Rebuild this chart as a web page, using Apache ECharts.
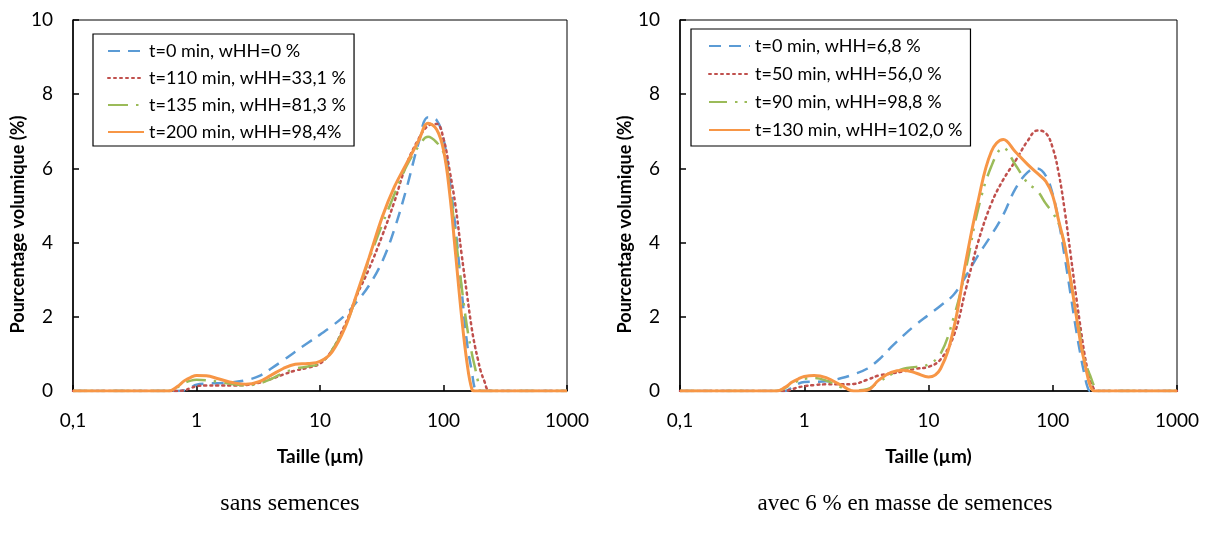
<!DOCTYPE html>
<html>
<head>
<meta charset="utf-8">
<style>html,body{margin:0;padding:0;background:#fff;}#chart{width:1205px;height:539px;}</style>
<script src="https://cdn.jsdelivr.net/npm/echarts@6/dist/echarts.min.js"></script>
</head>
<body>
<div id="chart"></div>
<script>
// Particle sizes (µm), shared by all curves
const sizes = [0.1, 0.5, 0.6, 0.7, 0.8, 0.9, 1.0, 1.2, 1.5, 2.0, 2.5, 3.2, 4.0, 5.0, 6.3, 8.0, 10, 12.5, 16, 20, 25, 32, 40, 50, 63, 75, 88, 100, 112, 125, 140, 155, 170, 180, 190, 200, 215, 230, 250, 1000];

// Left chart: sans semences
const namesA = ['t=0 min, wHH=0 %', 't=110 min, wHH=33,1 %', 't=135 min, wHH=81,3 %', 't=200 min, wHH=98,4%'];
const a_t0   = [0,0,0,0,0.02,0.1,0.17,0.2,0.21,0.24,0.29,0.4,0.6,0.82,1.06,1.3,1.52,1.75,2.05,2.42,2.85,3.5,4.36,5.44,6.7,7.38,7.3,6.8,5.7,4.4,2.74,1.3,0.5,0.05,0,0,0,0,0,0];
const a_t110 = [0,0,0,0,0.02,0.08,0.13,0.15,0.15,0.15,0.16,0.22,0.32,0.44,0.55,0.63,0.74,1.1,1.8,2.6,3.3,4.2,5.1,6.1,6.8,7.15,7.2,6.8,5.95,5.0,3.7,2.6,1.65,1.2,0.85,0.54,0.25,0.02,0,0];
const a_t135 = [0,0,0,0.1,0.22,0.28,0.3,0.29,0.25,0.18,0.15,0.2,0.32,0.48,0.6,0.66,0.75,1.1,1.75,2.6,3.55,4.5,5.3,6.05,6.6,6.85,6.7,6.43,5.52,4.2,2.83,1.73,1.0,0.63,0.27,0,0,0,0,0];
const a_t200 = [0,0,0,0.12,0.28,0.37,0.42,0.41,0.33,0.22,0.18,0.25,0.42,0.6,0.72,0.74,0.8,1.05,1.72,2.65,3.6,4.7,5.5,6.12,6.75,7.22,7.05,6.5,5.35,3.73,2.02,0.76,0.04,0,0,0,0,0,0,0];

// Right chart: avec 6 % en masse de semences
const namesB = ['t=0 min, wHH=6,8 %', 't=50 min, wHH=56,0 %', 't=90 min, wHH=98,8 %', 't=130 min, wHH=102,0 %'];
const b_t0   = [0,0,0,0,0.1,0.2,0.24,0.25,0.26,0.35,0.45,0.6,0.85,1.18,1.5,1.8,2.05,2.3,2.6,3.1,3.65,4.2,4.75,5.45,5.9,6.0,5.8,5.3,4.55,3.6,2.55,1.6,0.85,0.45,0.12,0,0,0,0,0];
const b_t50  = [0,0,0,0,0.05,0.1,0.13,0.16,0.18,0.18,0.19,0.3,0.42,0.47,0.53,0.6,0.65,0.85,1.5,2.75,4.0,5.05,5.7,6.2,6.75,7.02,6.95,6.55,5.85,4.85,3.62,2.5,1.55,1.0,0.6,0.35,0.05,0,0,0];
const b_t90  = [0,0,0,0.08,0.2,0.28,0.33,0.35,0.28,0.1,0.02,0.05,0.25,0.45,0.6,0.65,0.72,1.0,2.0,3.3,4.88,6.05,6.55,6.1,5.6,5.4,5.05,4.8,4.5,3.9,2.95,2.1,1.3,0.85,0.6,0.42,0.14,0,0,0];
const b_t130 = [0,0,0,0.1,0.24,0.33,0.39,0.42,0.36,0.15,0,0.02,0.3,0.5,0.56,0.48,0.38,0.6,1.7,3.5,5.1,6.45,6.78,6.45,6.1,5.87,5.65,5.26,4.57,3.91,2.95,2.0,1.17,0.78,0.42,0.15,0,0,0,0];

// Axis ticks
const xTickValues = [0.1, 1, 10, 100, 1000];
const xTickLabels = ['0,1', '1', '10', '100', '1000'];
const yTicks = [0, 2, 4, 6, 8, 10];
const xTitle = 'Taille (µm)';
const yTitle = 'Pourcentage volumique (%)';
const captions = ['sans semences', 'avec 6 % en masse de semences'];

const colors = ['#5b9bd5', '#c0504d', '#9bbb59', '#f79646'];
const FONT = 'Lato';

function pair(vals) { return sizes.map((s, i) => [s, vals[i]]); }
function xLabel(v) {
  let best = 0, bd = Infinity;
  xTickValues.forEach((t, i) => { const d = Math.abs(Math.log10(v) - Math.log10(t)); if (d < bd) { bd = d; best = i; } });
  return xTickLabels[best];
}

const styles = [
  { width: 2.5, type: [12, 8] },
  { width: 2.5, type: [2, 4], cap: 'round' },
  null,
  { width: 3, type: 'solid' }
];
const greenA = { width: 2.5, type: [20, 8, 2.5, 8] };
const greenB = { width: 2.5, type: [18, 8, 2.5, 7, 2.5, 8] };

function mkSeries(names, arrs, idx, green) {
  return arrs.map((arr, i) => ({
    name: names[i],
    type: 'line',
    xAxisIndex: idx,
    yAxisIndex: idx,
    data: pair(arr),
    smooth: 0.4,
    showSymbol: false,
    symbol: 'none',
    color: colors[i],
    lineStyle: Object.assign({ color: colors[i] }, i === 2 ? green : styles[i]),
    z: 2 + i
  }));
}

function xAxis(gi) {
  return {
    type: 'log', logBase: 10, gridIndex: gi, min: 0.1, max: 1000, splitNumber: 4,
    axisLine: { show: true, onZero: false, lineStyle: { color: '#000', width: 1.5 } },
    axisTick: { show: true, inside: true, length: 6, lineStyle: { color: '#000', width: 1.5 } },
    minorTick: { show: false },
    splitLine: { show: false },
    axisLabel: { margin: 20, fontFamily: FONT, fontSize: 19, color: '#000', formatter: xLabel },
    name: xTitle, nameLocation: 'middle', nameGap: 56,
    nameTextStyle: { fontFamily: FONT, fontSize: 19, fontWeight: 'bold', color: '#000' }
  };
}
function yAxis(gi) {
  return {
    type: 'value', gridIndex: gi, min: 0, max: 10, interval: 2,
    axisLine: { show: true, lineStyle: { color: '#000', width: 1.5 } },
    axisTick: { show: true, inside: true, length: 6, lineStyle: { color: '#000', width: 1.5 } },
    splitLine: { show: false },
    axisLabel: { margin: 20, fontFamily: FONT, fontSize: 19, color: '#000',
      formatter: v => String(yTicks.find(t => t === v) ?? v) },
    name: yTitle, nameLocation: 'middle', nameGap: 43, nameRotate: 90,
    nameTextStyle: { fontFamily: FONT, fontSize: 18, fontWeight: 'bold', color: '#000', padding: [0, 38, 0, 0] }
  };
}

const legendBase = {
  orient: 'vertical', itemWidth: 36, itemHeight: 14,
  borderColor: '#000', borderWidth: 1.2, backgroundColor: '#fff',
  itemStyle: { opacity: 0, borderWidth: 0 },
  textStyle: { fontFamily: FONT, fontSize: 18, color: '#000', lineHeight: 20 }
};

const chart = echarts.init(document.getElementById('chart'), null, { renderer: 'canvas' });
chart.setOption({
  animation: false,
  backgroundColor: '#fff',
  grid: [
    { left: 73, top: 20, width: 494, height: 371, show: true, borderColor: '#000', borderWidth: 1, backgroundColor: 'transparent' },
    { left: 680, top: 20, width: 497, height: 371, show: true, borderColor: '#000', borderWidth: 1, backgroundColor: 'transparent' }
  ],
  xAxis: [xAxis(0), xAxis(1)],
  yAxis: [yAxis(0), yAxis(1)],
  legend: [
    Object.assign({}, legendBase, { data: namesA, left: 93, top: 34, padding: [7, 8, 4, 14], itemGap: 7 }),
    Object.assign({}, legendBase, { data: namesB, left: 691, top: 29, padding: [7, 8, 6, 17], itemGap: 8, itemWidth: 41 })
  ],
  graphic: [
    { type: 'text', x: 290, y: 504, style: { text: captions[0], align: 'center', verticalAlign: 'middle', font: '24px "Liberation Serif"', fill: '#000' } },
    { type: 'text', x: 905, y: 504, style: { text: captions[1], align: 'center', verticalAlign: 'middle', font: '23px "Liberation Serif"', fill: '#000' } }
  ],
  series: [].concat(
    mkSeries(namesA, [a_t0, a_t110, a_t135, a_t200], 0, greenA),
    mkSeries(namesB, [b_t0, b_t50, b_t90, b_t130], 1, greenB)
  )
});
</script>
</body>
</html>
